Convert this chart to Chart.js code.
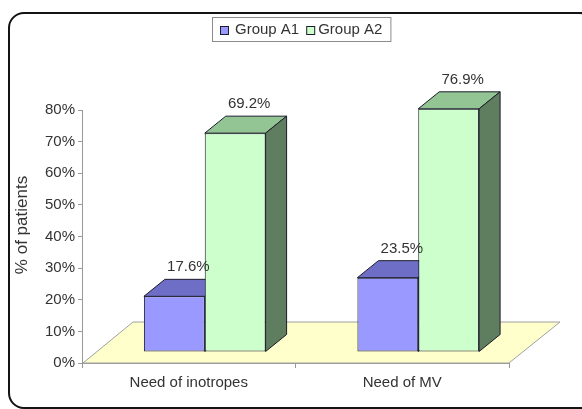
<!DOCTYPE html>
<html lang="en">
<head>
<meta charset="UTF-8">
<title>% of patients</title>
<script src="https://cdn.jsdelivr.net/npm/chart.js"></script>
<style>
  body { margin: 0; background: #fff; }
  canvas { display: block; }
</style>
</head>
<body>
<canvas id="patientsChart" width="582" height="409"></canvas>
<script>
// data
const categories = ['Need of inotropes', 'Need of MV'];
const seriesNames = ['Group A1', 'Group A2'];
const groupA1 = [17.6, 23.5];
const groupA2 = [69.2, 76.9];
const yMax = 80;
const yStep = 10;
const yTitle = '% of patients';

// colours: front / top / side of each bar
const frontColors = ['#9999FF', '#CCFFCC'];
const topColors = ['#6E6EC6', '#93C493'];
const sideColors = ['#5A5AA8', '#5F7E5F'];
const edgeColor = '#1c1c2c';

// fake 3D: bars sit a little back on the floor and have some depth
const FRONT = { dx: 16, dy: -11 };
const DEPTH = { dx: 21, dy: -17 };
const FLOOR = { dx: 51, dy: -41 };

const FONT = '"Liberation Sans", Arial, sans-serif';
const TEXT = '#333333';

function poly(ctx, pts, fill) {
    ctx.beginPath();
    ctx.moveTo(pts[0][0], pts[0][1]);
    for (let i = 1; i < pts.length; i++) ctx.lineTo(pts[i][0], pts[i][1]);
    ctx.closePath();
    ctx.fillStyle = fill;
    ctx.fill();
    ctx.lineWidth = 1;
    ctx.strokeStyle = edgeColor;
    ctx.stroke();
}

const bars3d = {
    id: 'bars3d',
    beforeDraw(chart) {
        const ctx = chart.ctx;
        ctx.save();
        ctx.fillStyle = '#fff';
        ctx.fillRect(0, 0, chart.width, chart.height);
        ctx.restore();
    },
    beforeDatasetsDraw(chart) {
        // floor
        const { ctx, chartArea: a } = chart;
        ctx.save();
        ctx.beginPath();
        ctx.moveTo(a.left + 1, a.bottom);
        ctx.lineTo(a.right, a.bottom);
        ctx.lineTo(a.right + FLOOR.dx, a.bottom + FLOOR.dy);
        ctx.lineTo(a.left + FLOOR.dx, a.bottom + FLOOR.dy);
        ctx.closePath();
        ctx.fillStyle = '#FFFFCC';
        ctx.fill();
        ctx.strokeStyle = '#a0a0a0';
        ctx.lineWidth = 1;
        ctx.stroke();
        ctx.restore();
    },
    // chart.js draws the last dataset first; skip that and draw them below in order
    beforeDatasetDraw() {
        return false;
    },
    afterDatasetsDraw(chart) {
        const ctx = chart.ctx;
        ctx.save();
        ctx.translate(FRONT.dx, FRONT.dy);
        chart.data.datasets.forEach((ds, i) => {
            const meta = chart.getDatasetMeta(i);
            meta.controller.draw();
            meta.data.forEach(bar => {
                const { x, y, base, width } = bar.getProps(['x', 'y', 'base', 'width'], true);
                const l = x - width / 2, r = x + width / 2;
                poly(ctx, [[l, y], [r, y], [r + DEPTH.dx, y + DEPTH.dy], [l + DEPTH.dx, y + DEPTH.dy]], topColors[i]);
                poly(ctx, [[r, y], [r, base], [r + DEPTH.dx, base + DEPTH.dy], [r + DEPTH.dx, y + DEPTH.dy]], sideColors[i]);
            });
        });
        ctx.restore();

        // value labels above the bars
        ctx.save();
        ctx.font = '15px ' + FONT;
        ctx.fillStyle = TEXT;
        ctx.textAlign = 'center';
        ctx.textBaseline = 'middle';
        chart.data.datasets.forEach((ds, i) => {
            chart.getDatasetMeta(i).data.forEach((bar, j) => {
                ctx.fillText(ds.data[j].toFixed(1) + '%', bar.x + 30, bar.y - 40);
            });
        });
        ctx.restore();
    },
    afterDraw(chart) {
        const ctx = chart.ctx;
        ctx.save();

        // y axis title
        ctx.save();
        ctx.translate(22, 225);
        ctx.rotate(-Math.PI / 2);
        ctx.font = '17px ' + FONT;
        ctx.fillStyle = TEXT;
        ctx.textAlign = 'center';
        ctx.textBaseline = 'middle';
        ctx.fillText(yTitle, 0, 0);
        ctx.restore();

        // legend
        ctx.font = '15px ' + FONT;
        const w1 = ctx.measureText(seriesNames[0]).width;
        const w2 = ctx.measureText(seriesNames[1]).width;
        const boxW = 8 + 8 + 7 + w1 + 7 + 8 + 4 + w2 + 8;
        const bx = Math.round(301 - boxW / 2), by = 17, bh = 24;
        ctx.fillStyle = '#fff';
        ctx.fillRect(bx + 0.5, by + 0.5, boxW, bh);
        ctx.strokeStyle = '#8c8c8c';
        ctx.lineWidth = 1;
        ctx.strokeRect(bx + 0.5, by + 0.5, boxW, bh);
        let x = bx + 8;
        seriesNames.forEach((name, i) => {
            ctx.fillStyle = frontColors[i];
            ctx.fillRect(x + 0.5, 26.5, 8, 8);
            ctx.strokeStyle = edgeColor;
            ctx.strokeRect(x + 0.5, 26.5, 8, 8);
            x += 8 + (i === 0 ? 7 : 4);
            ctx.fillStyle = TEXT;
            ctx.textAlign = 'left';
            ctx.textBaseline = 'middle';
            ctx.fillText(name, x, 30);
            x += (i === 0 ? w1 : w2) + 7;
        });

        // outer frame
        ctx.beginPath();
        ctx.roundRect(9, 13, 586, 395, 15);
        ctx.lineWidth = 2;
        ctx.strokeStyle = '#141414';
        ctx.stroke();
        ctx.restore();
    }
};

const ctx = document.getElementById('patientsChart').getContext('2d');

new Chart(ctx, {
    type: 'bar',
    data: {
        labels: categories,
        datasets: [
            {
                label: seriesNames[0],
                data: groupA1,
                backgroundColor: frontColors[0],
                borderColor: edgeColor,
                borderWidth: 1,
                borderSkipped: false
            },
            {
                label: seriesNames[1],
                data: groupA2,
                backgroundColor: frontColors[1],
                borderColor: edgeColor,
                borderWidth: 1,
                borderSkipped: false
            }
        ]
    },
    options: {
        responsive: false,
        animation: false,
        layout: {
            padding: { left: 10, top: 110, right: 73, bottom: 0 }
        },
        datasets: {
            bar: { categoryPercentage: 0.57, barPercentage: 1 }
        },
        plugins: {
            legend: { display: false },
            tooltip: { enabled: false }
        },
        scales: {
            x: {
                grid: { drawOnChartArea: false, drawTicks: true, tickLength: 5, color: '#999' },
                border: { color: '#999' },
                ticks: { color: TEXT, font: { size: 15, family: FONT }, padding: 6 },
                afterFit(scale) { scale.height = 46; }
            },
            y: {
                min: 0,
                max: yMax,
                grid: { drawOnChartArea: false, drawTicks: true, tickLength: 4, color: '#999' },
                border: { color: '#999' },
                ticks: {
                    stepSize: yStep,
                    color: TEXT,
                    font: { size: 15, family: FONT },
                    padding: 3,
                    callback: v => v + '%'
                },
                afterFit(scale) { scale.width = 72; }
            }
        }
    },
    plugins: [bars3d]
});
</script>
</body>
</html>
